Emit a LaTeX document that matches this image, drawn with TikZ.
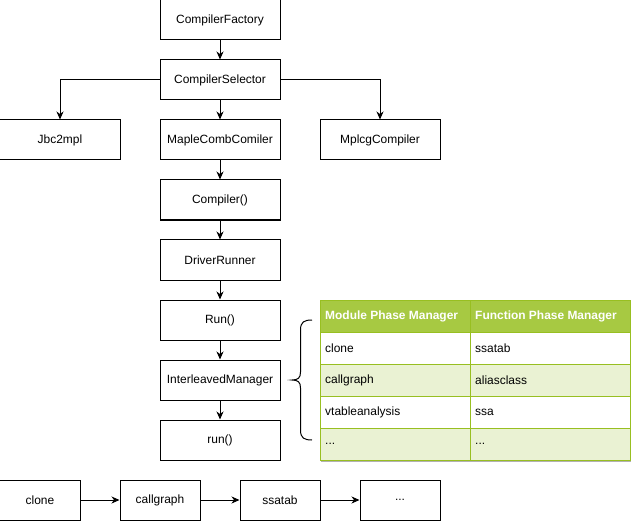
\documentclass[tikz,border=0pt]{standalone}
\usepackage{fontspec}
\setmainfont{Liberation Sans}
\usetikzlibrary{arrows.meta}
\definecolor{tabhead}{HTML}{A7C942}
\definecolor{tabline}{HTML}{98BF21}
\definecolor{tabrow}{HTML}{EAF2D3}
\tikzstyle{box}=[rectangle,draw=black,fill=white,line width=1bp,
                 minimum width=120bp,minimum height=40bp,inner sep=0pt]
\tikzstyle{flow}=[line width=1bp,-{Stealth[length=8bp,width=7bp,inset=2.5bp]}]
\tikzstyle{cell}=[anchor=west,inner sep=0pt]

\begin{document}
\begin{tikzpicture}[x=1bp,y=-1bp,font=\fontsize{12}{14}\selectfont]
    \useasboundingbox (0,0) rectangle (631,521);
    % main chain
    \node (fac) at (220, 20) [box]{CompilerFactory};
    \node (sel) at (220, 80) [box]{CompilerSelector};
    \node (jbc) at ( 60,140) [box]{Jbc2mpl};
    \node (mcc) at (220,140) [box]{MapleCombComiler};
    \node (mpl) at (380,140) [box]{MplcgCompiler};
    \node (cmp) at (220,200) [box]{Compiler()};
    \node (drv) at (220,260) [box]{DriverRunner};
    \node (run) at (220,320) [box]{Run()};
    \node (ilm) at (220,380) [box]{InterleavedManager};
    \node (rn2) at (220,440) [box]{run()};
    \draw[flow] (fac) -- (sel);
    \draw[flow] (sel) -- (mcc);
    \draw[flow] (sel.west) -| (jbc.north);
    \draw[flow] (sel.east) -| (mpl.north);
    \draw[flow] (mcc) -- (cmp);
    \draw[flow] (cmp) -- (drv);
    \draw[flow] (drv) -- (run);
    \draw[flow] (run) -- (ilm);
    \draw[flow] (ilm) -- (rn2);
    % brace
    \draw[line width=1bp] (312,320) .. controls (304,320) and (300.5,322) .. (300.5,330)
        -- (300.5,372) .. controls (300.5,378) and (298,380) .. (292,380)
        .. controls (298,380) and (300.5,382) .. (300.5,388)
        -- (300.5,430) .. controls (300.5,438) and (304,440) .. (312,440);
    % phase table
    \fill[tabhead] (320,300) rectangle (630.5,332);
    \fill[tabrow]  (320,364) rectangle (630.5,396);
    \fill[tabrow]  (320,428) rectangle (630.5,460);
    \draw[gray!60,line width=1bp] (321,461) -- (631,461);
    \draw[tabline,line width=1bp] (320,300) rectangle (630.5,460);
    \draw[tabline,line width=1bp] (320,332) -- (630.5,332);
    \draw[tabline,line width=1bp] (320,364) -- (630.5,364);
    \draw[tabline,line width=1bp] (320,396) -- (630.5,396);
    \draw[tabline,line width=1bp] (320,428) -- (630.5,428);
    \draw[tabline,line width=1bp] (470,300) -- (470,460);
    \node (h1) at (325,316) [cell,text=white,font=\fontsize{12}{14}\selectfont\bfseries]{Module Phase Manager};
    \node (h2) at (475,316) [cell,text=white,font=\fontsize{12}{14}\selectfont\bfseries]{Function Phase Manager};
    \node (a1) at (325,348) [cell]{clone};
    \node (b1) at (475,348) [cell]{ssatab};
    \node (a2) at (325,380) [cell]{callgraph};
    \node (b2) at (475,380) [cell]{aliasclass};
    \node (a3) at (325,412) [cell]{vtableanalysis};
    \node (b3) at (475,412) [cell]{ssa};
    \node (a4) at (325,444) [cell]{...};
    \node (b4) at (475,444) [cell]{...};
    % pass pipeline
    \node (p1) at ( 40,500) [box,minimum width=80bp]{clone};
    \node (p2) at (160,500) [box,minimum width=80bp]{callgraph};
    \node (p3) at (280,500) [box,minimum width=80bp]{ssatab};
    \node (p4) at (400,500) [box,minimum width=80bp]{...};
    \draw[flow] (p1) -- (p2);
    \draw[flow] (p2) -- (p3);
    \draw[flow] (p3) -- (p4);
\end{tikzpicture}
\end{document}
